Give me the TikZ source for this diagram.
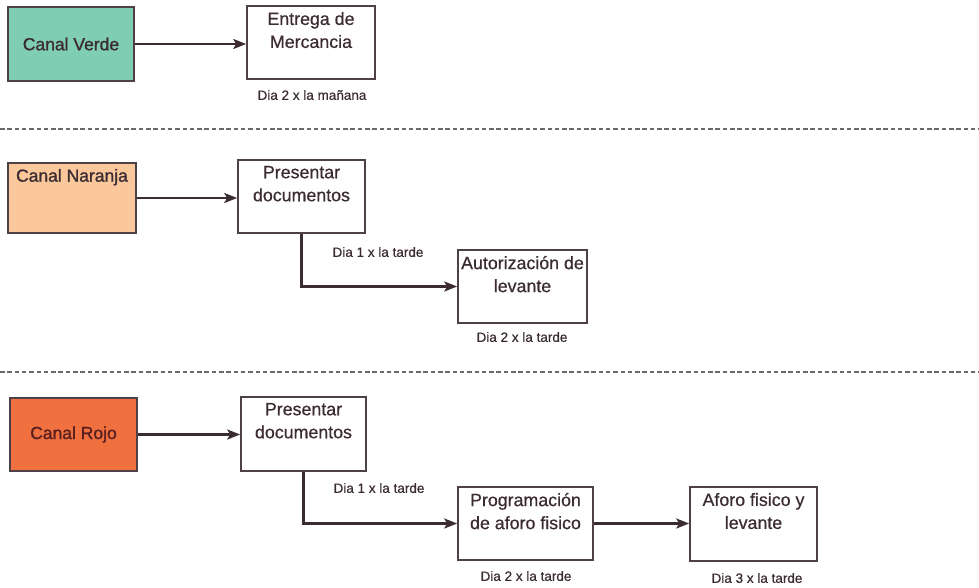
\documentclass[tikz,border=0pt]{standalone}
\usepackage{fontspec}
\setmainfont{Liberation Sans}[FakeBold=0.6]
\newfontfamily\titlefont{Liberation Sans}[FakeBold=1.2]
\usetikzlibrary{arrows.meta}

\definecolor{ink}{HTML}{3B2C33}
\definecolor{frame}{HTML}{4D4046}
\definecolor{verde}{HTML}{7FCDB2}
\definecolor{naranja}{HTML}{FBC89C}
\definecolor{rojo}{HTML}{F07040}
\definecolor{rojoink}{HTML}{5A1F1F}
\definecolor{sep}{HTML}{6A6A6A}

% box with its text set from the top edge down
\newcommand{\boxtext}[3]{\parbox[c][#2][t]{#1}{\centering\vspace*{6pt}\baselineskip=23pt #3}}

\tikzset{
  stage/.style={draw=frame, line width=1.6pt, fill=white, inner sep=0pt,
                font=\fontsize{17.8}{23}\selectfont, text=ink},
  channel/.style={stage, fill=#1, font=\fontsize{17.5}{23}\titlefont},
  daynote/.style={font=\fontsize{13.5}{15}\selectfont, text=ink, inner sep=0pt},
  flow/.style={draw=ink, line width=2.4pt,
               -{Stealth[length=13pt, width=10pt, inset=3pt]}},
  lane/.style={draw=sep, line width=1.6pt, dash pattern=on 4.5pt off 2.8pt}
}

\begin{document}
\begin{tikzpicture}[x=1pt, y=-1pt]
\useasboundingbox (0,0) rectangle (979,587);

% ---- green channel ----
\node[channel=verde, minimum width=126pt, minimum height=74pt] (verde) at (71,44)
  {Canal Verde};
\node[stage] (entrega) at (311,42.5) {\boxtext{128pt}{73pt}{Entrega de\\Mercancia}};
\node[daynote] (d1) at (312,95) {Dia 2 x la mañana};
\draw[flow] (verde.east) -- (verde.east -| entrega.west);

\coordinate (s1a) at (0,129);
\coordinate (s1b) at (979,129);
\draw[lane] (s1a) -- (s1b);

% ---- orange channel ----
\node[channel=naranja] (naranja) at (72,198) {\boxtext{128pt}{70pt}{Canal Naranja}};
\node[stage] (pres1) at (301.5,196.5) {\boxtext{127pt}{73pt}{Presentar\\documentos}};
\node[stage] (autor) at (522.5,286.5) {\boxtext{129pt}{73pt}{Autorización de\\levante}};
\node[daynote] (d2) at (378,252) {Dia 1 x la tarde};
\node[daynote] (d3) at (522,337) {Dia 2 x la tarde};
\draw[flow] (naranja.east) -- (naranja.east -| pres1.west);
\draw[flow] (pres1.south) |- (autor.west);

\coordinate (s2a) at (0,372);
\coordinate (s2b) at (979,372);
\draw[lane] (s2a) -- (s2b);

% ---- red channel ----
\node[channel=rojo, text=rojoink, minimum width=127pt, minimum height=73pt] (rojo) at (73.5,434.5)
  {Canal Rojo};
\node[stage] (pres2) at (303.5,434) {\boxtext{125pt}{74pt}{Presentar\\documentos}};
\node[stage] (prog) at (525.5,523.5) {\boxtext{135pt}{73pt}{Programación\\de aforo fisico}};
\node[stage] (aforo) at (753.5,524) {\boxtext{127pt}{74pt}{Aforo fisico y\\levante}};
\node[daynote] (d4) at (379,488) {Dia 1 x la tarde};
\node[daynote] (d5) at (526,576) {Dia 2 x la tarde};
\node[daynote] (d6) at (757,578) {Dia 3 x la tarde};
\draw[flow] (rojo.east) -- (rojo.east -| pres2.west);
\draw[flow] (pres2.south) |- (prog.west);
\draw[flow] (prog.east) -- (prog.east -| aforo.west);
\end{tikzpicture}
\end{document}
